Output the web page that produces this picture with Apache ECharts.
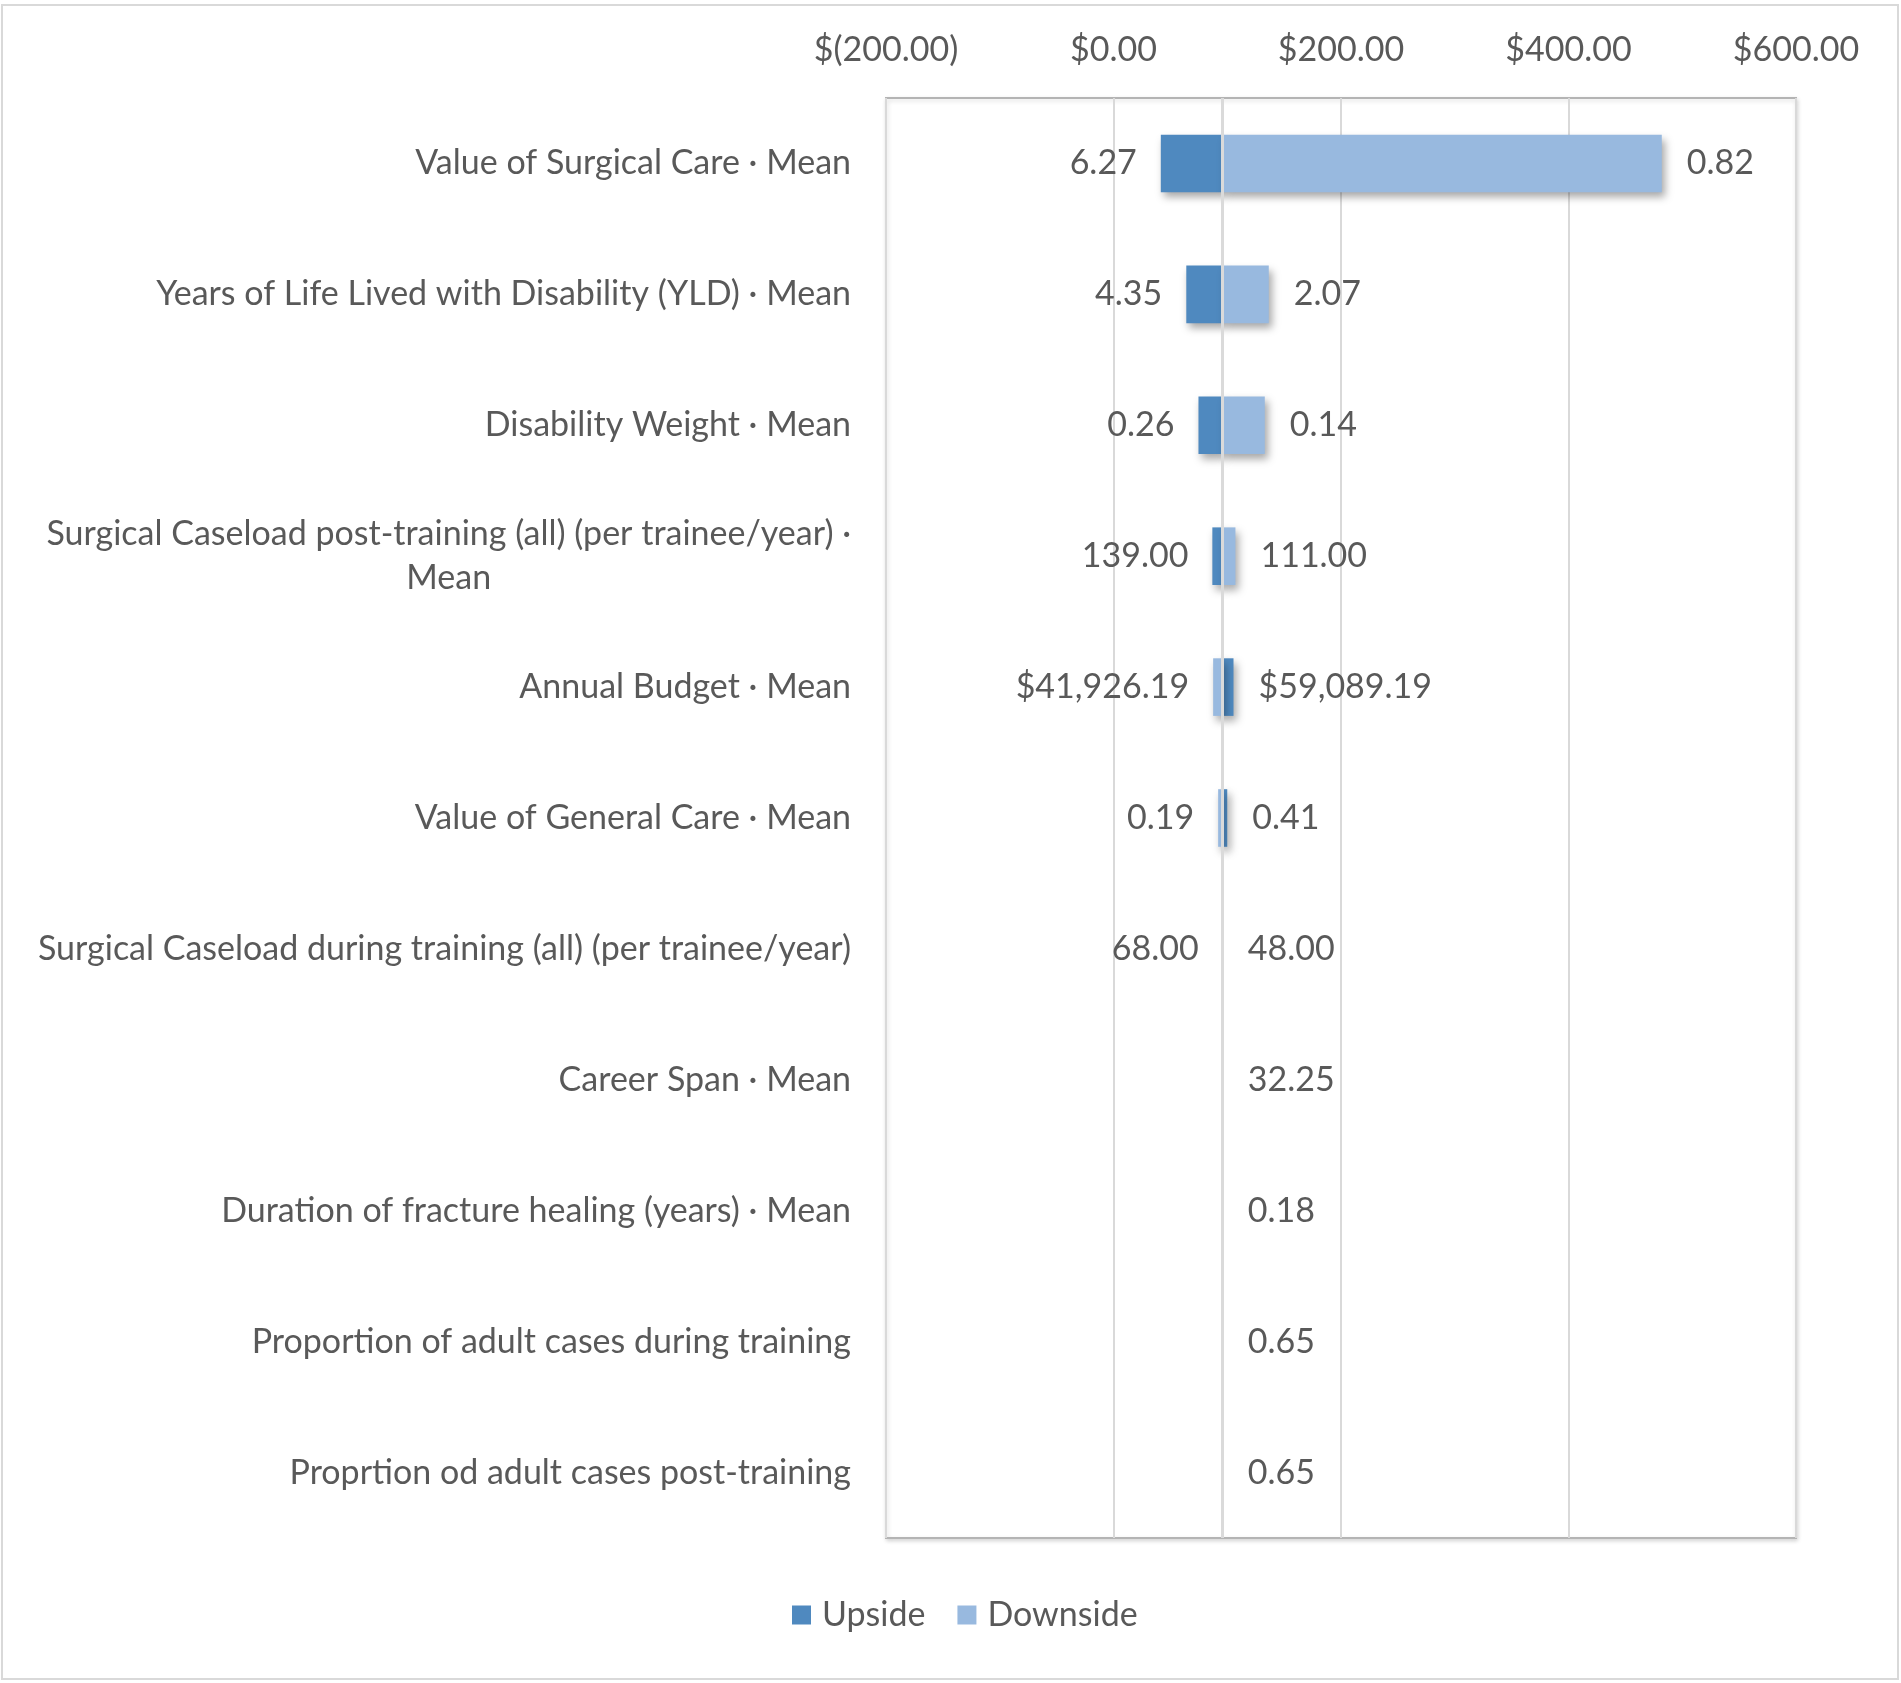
<!DOCTYPE html>
<html>
<head>
<meta charset="utf-8">
<script src="https://cdn.jsdelivr.net/npm/echarts@6/dist/echarts.min.js"></script>
<style>
  html, body { margin: 0; padding: 0; background: #fff; }
  #chart { width: 1901px; height: 1683px; }
</style>
</head>
<body>
<div id="chart"></div>
<script>
// tornado chart: bars start at the base value and run to each end
var categories = [
    'Value of Surgical Care · Mean',
    'Years of Life Lived with Disability (YLD) · Mean',
    'Disability Weight · Mean',
    'Surgical Caseload post-training (all) (per trainee/year) ·\nMean',
    'Annual Budget · Mean',
    'Value of General Care · Mean',
    'Surgical Caseload during training (all) (per trainee/year)',
    'Career Span · Mean',
    'Duration of fracture healing (years) · Mean',
    'Proportion of adult cases during training',
    'Proprtion od adult cases post-training'
];
var baseValue = 96;
var upsideEnd   = [41.6, 64, 74.7, 86.9, 105.5, 100, 96, 96, 96, 96, 96];
var downsideEnd = [482, 136.5, 133, 107.2, 87.6, 92, 96, 96, 96, 96, 96];
var lowLabels  = ['6.27', '4.35', '0.26', '139.00', '$41,926.19', '0.19', '68.00', '', '', '', ''];
var highLabels = ['0.82', '2.07', '0.14', '111.00', '$59,089.19', '0.41', '48.00', '32.25', '0.18', '0.65', '0.65'];
var xTicks = { min: -200, max: 600, step: 200 };

var FONT = 'Lato';
var GREY = '#595959';
var FS = 34;

function barData(ends) {
    return ends.map(function (e, i) {
        return [i, Math.min(baseValue, e), Math.max(baseValue, e)];
    });
}
var labelData = categories.map(function (c, i) {
    return [i, Math.min(baseValue, upsideEnd[i], downsideEnd[i]), Math.max(baseValue, upsideEnd[i], downsideEnd[i])];
});

function renderBar(params, api) {
    var cat = api.value(0);
    var p0 = api.coord([api.value(1), cat]);
    var p1 = api.coord([api.value(2), cat]);
    var h = api.size([0, 1])[1] * 0.44;
    if (p1[0] - p0[0] <= 0) return null;
    var st = api.style();
    st.shadowBlur = 8;
    st.shadowOffsetX = 3;
    st.shadowOffsetY = 5;
    st.shadowColor = 'rgba(0,0,0,0.35)';
    return {
        type: 'rect',
        shape: { x: p0[0], y: p0[1] - h / 2, width: p1[0] - p0[0], height: h },
        style: st
    };
}

function renderLabels(params, api) {
    var i = params.dataIndex;
    var pl = api.coord([api.value(1), i]);
    var pr = api.coord([api.value(2), i]);
    var txt = { fill: GREY, fontSize: FS, fontFamily: FONT, verticalAlign: 'middle' };
    return {
        type: 'group',
        children: [
            { type: 'text', x: pl[0] - 24, y: pl[1],
              style: Object.assign({ text: lowLabels[i], align: 'right' }, txt) },
            { type: 'text', x: pr[0] + 25, y: pr[1],
              style: Object.assign({ text: highLabels[i], align: 'left' }, txt) }
        ]
    };
}

function money(v) {
    if (v < 0) return '$(' + Math.abs(v).toFixed(2) + ')';
    return '$' + v.toFixed(2);
}

var chart = echarts.init(document.getElementById('chart'));

var option = {
    backgroundColor: '#fff',
    animation: false,
    textStyle: { fontFamily: FONT },
    graphic: [{
        type: 'rect',
        shape: { x: 2, y: 5, width: 1896, height: 1674 },
        style: { fill: 'none', stroke: '#d9d9d9', lineWidth: 2 },
        silent: true
    }],
    grid: {
        left: 886, right: 105, top: 98, bottom: 145,
        show: true,
        borderColor: '#b4b4b4',
        borderWidth: 2,
        shadowColor: 'rgba(0,0,0,0.15)',
        shadowBlur: 4,
        shadowOffsetX: 1,
        shadowOffsetY: 2,
        backgroundColor: '#fff'
    },
    legend: {
        data: ['Upside', 'Downside'],
        bottom: 46,
        left: 787,
        icon: 'rect',
        itemWidth: 19,
        itemHeight: 19,
        itemGap: 32,
        textStyle: { color: GREY, fontSize: FS, fontFamily: FONT, padding: [0, 0, 0, 6] }
    },
    xAxis: {
        type: 'value',
        position: 'top',
        min: xTicks.min,
        max: xTicks.max,
        interval: xTicks.step,
        axisLine: { show: false },
        axisTick: { show: false },
        axisLabel: {
            color: GREY, fontSize: FS, fontFamily: FONT, margin: 31,
            formatter: money
        },
        splitLine: { lineStyle: { color: '#d9d9d9', width: 2 } }
    },
    yAxis: {
        type: 'category',
        inverse: true,
        data: categories,
        axisLine: { show: false },
        axisTick: { show: false },
        axisLabel: {
            color: GREY, fontSize: FS, fontFamily: FONT, margin: 35, lineHeight: 44,
            formatter: function (v) {
                var parts = v.split('\n');
                if (parts.length < 2) return v;
                return parts[0] + '\n{c|' + parts[1] + '}';
            },
            rich: {
                c: { align: 'center', color: GREY, fontSize: FS, fontFamily: FONT, lineHeight: 44 }
            }
        }
    },
    series: [
        {
            name: 'Upside',
            type: 'custom',
            renderItem: renderBar,
            encode: { x: [1, 2], y: 0 },
            itemStyle: { color: '#4f89bf' },
            data: barData(upsideEnd),
            z: 2,
            markLine: {
                silent: true,
                symbol: 'none',
                label: { show: false },
                lineStyle: { color: '#dadada', width: 3, type: 'solid' },
                data: [{ xAxis: baseValue }],
                z: 5
            }
        },
        {
            name: 'Downside',
            type: 'custom',
            renderItem: renderBar,
            encode: { x: [1, 2], y: 0 },
            itemStyle: { color: '#98b9df' },
            data: barData(downsideEnd),
            z: 2
        },
        {
            name: 'labels',
            type: 'custom',
            renderItem: renderLabels,
            encode: { x: [1, 2], y: 0 },
            silent: true,
            data: labelData,
            z: 6
        }
    ]
};

chart.setOption(option);
window.addEventListener('resize', function () { chart.resize(); });
</script>
</body>
</html>
